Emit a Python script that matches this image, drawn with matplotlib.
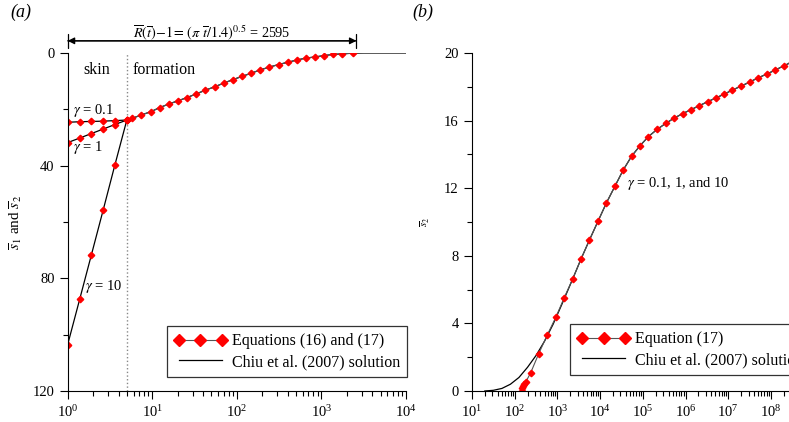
import numpy as np
import matplotlib
matplotlib.use('Agg')
import matplotlib.pyplot as plt
from matplotlib.ticker import MultipleLocator, LogLocator, NullFormatter

plt.rcParams['font.family'] = ['Liberation Serif', 'DejaVu Serif']
plt.rcParams['mathtext.fontset'] = 'stix'
plt.rcParams['font.size'] = 10.5

# ---- panel (a): drawdown vs radial distance ----
r_skin = [1.0, 1.387, 1.905, 2.63, 3.61, 5.0]
s_g01 = [24.6, 24.4, 24.3, 24.2, 24.0, 23.8]
s_g1 = [31.8, 30.2, 28.6, 27.0, 25.4, 23.8]
s_g10 = [103.5, 87.4, 71.7, 55.7, 39.8, 23.8]

logr_form = [0.699, 0.763, 0.869, 0.979, 1.086, 1.196, 1.302, 1.412, 1.522, 1.628,
             1.738, 1.844, 1.950, 2.061, 2.167, 2.277, 2.384, 2.493, 2.600, 2.710,
             2.816, 2.926, 3.032, 3.142, 3.248, 3.378]
s_form = [23.8, 23.2, 22.0, 20.9, 19.4, 18.1, 17.0, 15.8, 14.5, 13.2,
          12.0, 10.7, 9.5, 8.3, 7.2, 6.0, 5.0, 4.1, 3.3, 2.5,
          1.8, 1.4, 0.9, 0.5, 0.3, 0.05]
logr_chiu_tail = [3.5, 3.7, 4.0]
s_chiu_tail = [0.0, 0.0, 0.0]

# ---- panel (b): drawdown vs time ----
logt_eq17 = [2.164, 2.178, 2.200, 2.225, 2.258, 2.375, 2.56, 2.76, 2.97, 3.16,
             3.36, 3.55, 3.75, 3.95, 4.15, 4.35, 4.54, 4.74, 4.93, 5.13,
             5.34, 5.54, 5.73, 5.93, 6.13, 6.32, 6.52, 6.71, 6.91, 7.10,
             7.31, 7.50, 7.70, 7.90, 8.10, 8.31, 8.50]
s_eq17 = [0.02, 0.16, 0.30, 0.41, 0.53, 1.08, 2.19, 3.30, 4.40, 5.52,
          6.64, 7.79, 8.93, 10.04, 11.14, 12.13, 13.07, 13.90, 14.50, 15.05,
          15.49, 15.84, 16.14, 16.41, 16.65, 16.88, 17.12, 17.34, 17.57, 17.81,
          18.05, 18.28, 18.53, 18.75, 18.99, 19.25, 19.48]
logt_chiu = [1.3, 1.5, 1.7, 1.9, 2.1, 2.3, 2.5, 2.7, 2.9, 3.1,
             3.36, 3.55, 3.75, 3.95, 4.15, 4.35, 4.54, 4.74, 4.93, 5.13,
             5.34, 5.54, 5.73, 5.93, 6.13, 6.32, 6.52, 6.71, 6.91, 7.10,
             7.31, 7.50, 7.70, 7.90, 8.10, 8.31, 8.50, 8.70, 9.0]
s_chiu = [0.0, 0.04, 0.15, 0.40, 0.80, 1.40, 2.10, 2.95, 3.95, 5.10,
          6.64, 7.79, 8.93, 10.04, 11.14, 12.13, 13.07, 13.90, 14.50, 15.05,
          15.49, 15.84, 16.14, 16.41, 16.65, 16.88, 17.12, 17.34, 17.57, 17.81,
          18.05, 18.28, 18.53, 18.75, 18.99, 19.25, 19.48, 19.72, 20.05]

red = '#ff0000'
msize = 3.3
mk = dict(marker='D', markersize=msize, markerfacecolor=red, markeredgecolor=red,
          color='#555555', linewidth=0.8)
leg_kw = dict(numpoints=3, handlelength=3.3, handletextpad=0.3, markerscale=1.85,
              fancybox=False, framealpha=1, edgecolor='#333333', borderpad=0.45,
              labelspacing=0.3, fontsize=11.5, borderaxespad=0)


def style_axis(ax):
    ax.spines['top'].set_visible(False)
    ax.spines['right'].set_visible(False)
    ax.tick_params(which='major', direction='out', length=6, width=0.8, labelsize=10.5)
    ax.tick_params(which='minor', direction='out', length=3.5, width=0.8)
    ax.set_xscale('log')
    ax.xaxis.set_major_locator(LogLocator(base=10, numticks=20))
    ax.xaxis.set_minor_locator(LogLocator(base=10, subs=np.arange(2, 10), numticks=20))
    ax.xaxis.set_minor_formatter(NullFormatter())


fig = plt.figure(figsize=(7.89, 4.22), dpi=100)

# panel (a)
ax1 = fig.add_axes([0.0858, 0.0735, 0.4288, 0.8009])
style_axis(ax1)
ax1.axvline(5, color='#888888', linestyle=':', linewidth=1.0)
for s in (s_g01, s_g1, s_g10):
    ax1.plot(r_skin, s, color='black', linewidth=0.9)
r_form = 10 ** np.array(logr_form)
r_chiu = np.concatenate([r_form, 10 ** np.array(logr_chiu_tail)])
s_chiu_a = np.concatenate([s_form, s_chiu_tail])
ax1.plot(r_chiu, s_chiu_a, color='black', linewidth=0.9)
for s in (s_g01, s_g1, s_g10):
    ax1.plot(r_skin, s, linestyle='none', marker='D', markersize=msize, color=red)
ax1.plot(r_form, s_form, **mk, label='Equations (16) and (17)')
ax1.plot([], [], color='black', linewidth=0.9, label='Chiu et al. (2007) solution')
ax1.set_xlim(1, 1e4)
ax1.set_ylim(120, 0)
ax1.yaxis.set_major_locator(MultipleLocator(40))
ax1.yaxis.set_minor_locator(MultipleLocator(20))
ax1.set_ylabel(r'$\overline{s}_1$ and $\overline{s}_2$', fontsize=11)
ax1.yaxis.set_label_coords(-0.13, 0.5)
leg1 = ax1.legend(loc='lower right', bbox_to_anchor=(1.003, 0.041), **leg_kw)
leg1.get_frame().set_linewidth(0.9)

ax1.text(2.22, 6, 'skin', ha='center', va='center', fontsize=11.5)
ax1.text(13.8, 6, 'formation', ha='center', va='center', fontsize=11.5)
ax1.text(2.0, 20.4, r'$\gamma$ = 0.1', ha='center', va='center', fontsize=10.5)
ax1.text(1.74, 33.5, r'$\gamma$ = 1', ha='center', va='center', fontsize=10.5)
ax1.text(2.7, 83, r'$\gamma$ = 10', ha='center', va='center', fontsize=10.5)

trans = ax1.get_xaxis_transform()
ax1.annotate('', xy=(2595, 1.036), xytext=(1, 1.036), xycoords=trans, textcoords=trans,
             arrowprops=dict(arrowstyle='<|-|>', color='black', lw=0.9,
                             shrinkA=0, shrinkB=0, mutation_scale=10), annotation_clip=False)
ax1.annotate('', xy=(2595, 1.036), xytext=(1, 1.036), xycoords=trans, textcoords=trans,
             arrowprops=dict(arrowstyle='|-|', color='black', lw=0.9,
                             shrinkA=0, shrinkB=0, mutation_scale=5), annotation_clip=False)
ax1.text(50, 1.047, r'$\overline{R}(\overline{t})\!-\!1\!=\,(\pi\ \overline{t}/1.4)^{0.5}$ = 2595',
         transform=trans, ha='center', va='baseline', fontsize=10.3)
fig.text(0.013, 0.97, '(a)', fontsize=13, style='italic', va='center', ha='left')

# panel (b)
ax2 = fig.add_axes([0.5982, 0.0735, 0.433, 0.8009])
style_axis(ax2)
ax2.plot(10 ** np.array(logt_chiu), s_chiu, color='black', linewidth=0.9)
ax2.plot(10 ** np.array(logt_eq17), s_eq17, **mk, label='Equation (17)')
ax2.plot([], [], color='black', linewidth=0.9, label='Chiu et al. (2007) solution')
ax2.set_xlim(10, 1e9)
ax2.set_ylim(0, 20)
ax2.yaxis.set_major_locator(MultipleLocator(4))
ax2.yaxis.set_minor_locator(MultipleLocator(2))
ax2.set_ylabel(r'$\overline{s}_2$', fontsize=8)
ax2.yaxis.set_label_coords(-0.117, 0.5)
leg2 = ax2.legend(loc='lower left', bbox_to_anchor=(0.287, 0.047), **leg_kw)
leg2.get_frame().set_linewidth(0.9)
ax2.text(10 ** 4.63, 12.3, r'$\gamma$ = 0.1, 1, and 10', ha='left', va='center', fontsize=10.5)
fig.text(0.523, 0.97, '(b)', fontsize=13, style='italic', va='center', ha='left')

fig.savefig('out.png', dpi=100)
